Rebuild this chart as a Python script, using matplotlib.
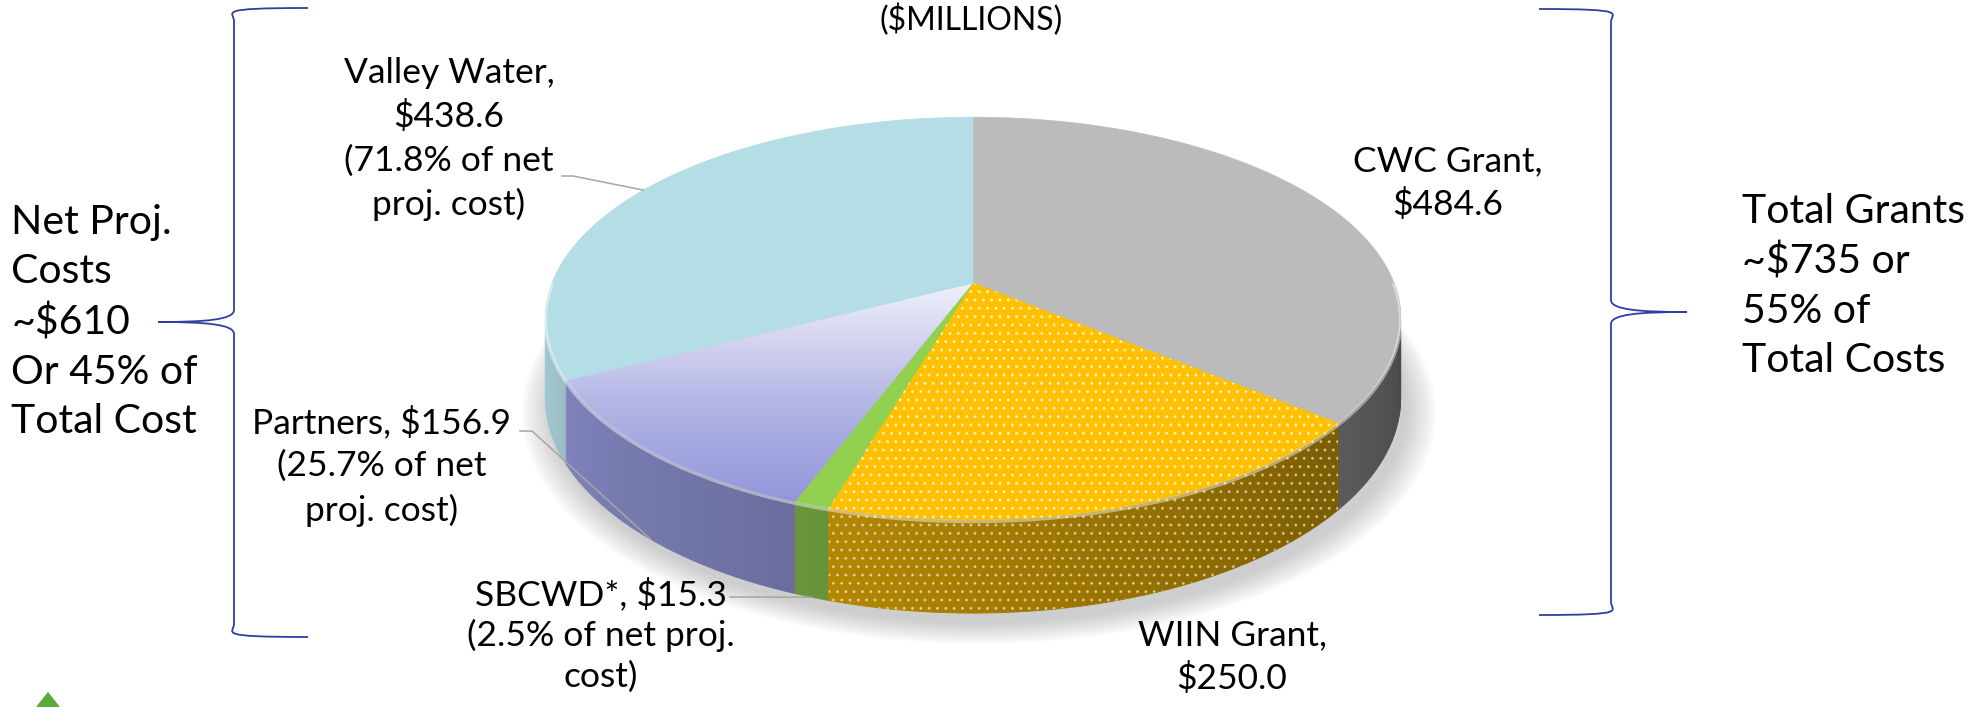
import numpy as np
import matplotlib.pyplot as plt
from matplotlib.patches import Polygon, PathPatch
from matplotlib.path import Path
from matplotlib.colors import to_rgb, LinearSegmentedColormap

plt.rcParams['font.family'] = ['Liberation Sans Narrow', 'Lato', 'DejaVu Sans']

### data ($ millions), clockwise from 12 o'clock
names = ['CWC Grant', 'WIIN Grant', 'SBCWD*', 'Partners', 'Valley Water']
values = [484.6, 250.0, 15.3, 156.9, 438.6]
net_cost = ['SBCWD*', 'Partners', 'Valley Water']   # share of net proj. cost
top_colors = ['#BBBBBB', '#FFC000', '#92D050', '#9498DA', '#B4DDE6']

title = '($MILLIONS)'
left_note = ['Net Proj.', 'Costs', '~$610', 'Or 45% of', 'Total Cost']
right_note = ['Total Grants', '~$735 or', '55% of', 'Total Costs']

### pie geometry (pixels)
cx, cy = 973, 283
rx, ry, persp, depth = 421, 195, 0.176, 77


def proj(theta, z=0.0, r=1.0):
    u, v = r * np.cos(theta), r * np.sin(theta)
    d = 1 + persp * v
    return cx + rx * u / d, cy - ry * v / d + depth * z / d


def shade(col, theta):
    t = (np.mod(theta, 2 * np.pi) - np.pi) / np.pi
    k = 0.95 - 0.6 * np.clip(t, 0, 1)
    return tuple(np.array(to_rgb(col)) * k)


vals = np.array(values)
net_total = sum(v for n, v in zip(names, values) if n in net_cost)
ends = np.pi / 2 - 2 * np.pi * np.cumsum(vals) / vals.sum()
starts = np.concatenate([[np.pi / 2], ends[:-1]])
mids = (starts + ends) / 2

fig = plt.figure(figsize=(19.75, 7.07), dpi=100)
ax = fig.add_axes([0, 0, 1, 1])
ax.set_xlim(0, 1975)
ax.set_ylim(707, 0)
ax.axis('off')

# soft shadow under the pie
ts = np.linspace(0, 2 * np.pi, 200)
for k in range(12):
    xs, ys = proj(ts, 1.0, 1.0 + 0.006 * k)
    ax.add_patch(Polygon(np.c_[xs + 6, ys + 10], closed=True, color='#808080',
                         alpha=0.035, lw=0, zorder=1))

# sides (front half only), back to front
strips = []
for i in range(len(values)):
    lo, hi = ends[i], starts[i]
    lo, hi = max(lo, -np.pi), min(hi, 0.0)
    if lo >= hi:
        continue
    edges = np.linspace(lo, hi, max(2, int((hi - lo) / np.radians(1.5)) + 1))
    for a, b in zip(edges[:-1], edges[1:]):
        strips.append((np.sin((a + b) / 2), i, a, b))
    if names[i] == 'WIIN Grant':
        arc = np.linspace(lo, hi, 60)
        tx, ty = proj(arc, 0)
        bx, by = proj(arc[::-1], 1)
        ax.add_patch(Polygon(np.c_[np.r_[tx, bx], np.r_[ty, by]], closed=True,
                             facecolor='none', edgecolor=(1, 1, 1, 0.45),
                             hatch='..', lw=0, zorder=3))
strips.sort(key=lambda s: -s[0])
for _, i, a, b in strips:
    c = shade(top_colors[i], (a + b) / 2)
    pts = [proj(a, 0), proj(b, 0), proj(b, 1), proj(a, 1)]
    ax.add_patch(Polygon(pts, closed=True, facecolor=c, edgecolor=c, lw=0.6, zorder=2))

# top faces
for i in range(len(values)):
    arc = np.linspace(starts[i], ends[i], 120)
    xs, ys = proj(arc, 0)
    poly = np.c_[np.r_[cx, xs], np.r_[cy, ys]]
    if names[i] == 'Partners':
        p = Polygon(poly, closed=True, facecolor='none', lw=0, zorder=4)
        ax.add_patch(p)
        cmap = LinearSegmentedColormap.from_list('pt', ['#F0F0FA', '#B4B6E6', '#8C91D8'])
        grad = np.linspace(0, 1, 256)[:, None]
        im = ax.imshow(grad, cmap=cmap, extent=[xs.min(), cx, 520, cy],
                       aspect='auto', zorder=4, interpolation='bilinear')
        im.set_clip_path(p)
        ax.set_xlim(0, 1975)
        ax.set_ylim(707, 0)
    else:
        ax.add_patch(Polygon(poly, closed=True, facecolor=top_colors[i],
                             edgecolor=top_colors[i], lw=0.5, zorder=4))
    if names[i] == 'WIIN Grant':
        ax.add_patch(Polygon(poly, closed=True, facecolor='none',
                             edgecolor=(1, 1, 1, 0.6), hatch='..', lw=0, zorder=5))

# rim highlight on the front edge
arc = np.linspace(-np.pi, 0, 200)
xs, ys = proj(arc, 0.02)
ax.plot(xs, ys, color='white', alpha=0.45, lw=2.5, zorder=6, solid_capstyle='round')

### labels
fs = 25.5
lab = {
    'CWC Grant': (1448, 183, 'CWC Grant,\n${:.1f}'),
    'WIIN Grant': (1232, 657, 'WIIN Grant,\n${:.1f}'),
    'SBCWD*': (601, 635, 'SBCWD*, ${:.1f}\n({:.1f}% of net proj.\ncost)'),
    'Partners': (382, 466, 'Partners, ${:.1f}\n({:.1f}% of net\nproj. cost)'),
    'Valley Water': (449, 139, 'Valley Water,\n${:.1f}\n({:.1f}% of net\nproj. cost)'),
}
for i, n in enumerate(names):
    x, y, fmt = lab[n]
    txt = fmt.format(values[i], 100 * values[i] / net_total)
    ls = 1.3 if n == 'SBCWD*' else 1.42
    ax.text(x, y, txt, ha='center', va='center', fontsize=fs, linespacing=ls,
            color='black', zorder=8)

# leader lines
leaders = {
    'Valley Water': ([562, 573], [176, 176], 0),
    'Partners': ([520, 532], [431, 431], 1),
    'SBCWD*': ([730, 736], [597, 597], 1),
}
for i, n in enumerate(names):
    if n in leaders:
        lx, ly, z = leaders[n]
        ex, ey = proj(mids[i], z)
        ax.plot(lx + [ex], ly + [ey], color='#A6A6A6', lw=1.1, zorder=7)

ax.text(971, 20, title, ha='center', va='center', fontsize=23, color='black')
ax.text(11, 322, '\n'.join(left_note), ha='left', va='center', fontsize=29.5,
        linespacing=1.42, color='black')
ax.text(1742, 286, '\n'.join(right_note), ha='left', va='center', fontsize=29.5,
        linespacing=1.4, color='black')

# braces
def brace(xv, xa, xt, y0, y1, ym):
    s = 1 if xt < xv else -1
    verts = [(xa, y0), (xv - s * 20, y0), (xv, y0 + 4), (xv, y0 + 13),
             (xv, ym - 12),
             (xv, ym - 2), (xv - s * 30, ym), (xt, ym),
             (xv - s * 30, ym), (xv, ym + 2), (xv, ym + 12),
             (xv, y1 - 13),
             (xv, y1 - 4), (xv - s * 20, y1), (xa, y1)]
    codes = [Path.MOVETO, Path.CURVE4, Path.CURVE4, Path.CURVE4, Path.LINETO,
             Path.CURVE4, Path.CURVE4, Path.CURVE4,
             Path.CURVE4, Path.CURVE4, Path.CURVE4, Path.LINETO,
             Path.CURVE4, Path.CURVE4, Path.CURVE4]
    ax.add_patch(PathPatch(Path(verts, codes), facecolor='none',
                           edgecolor='#2F3FA0', lw=1.3))

brace(234, 308, 158, 8, 637, 322)
brace(1611, 1539, 1687, 9, 615, 312)

# logo fragment
ax.add_patch(Polygon([(36, 707), (48, 692), (60, 707)], closed=True,
                     color='#5DAA3A', lw=0))

fig.savefig('out.png', dpi=100)
